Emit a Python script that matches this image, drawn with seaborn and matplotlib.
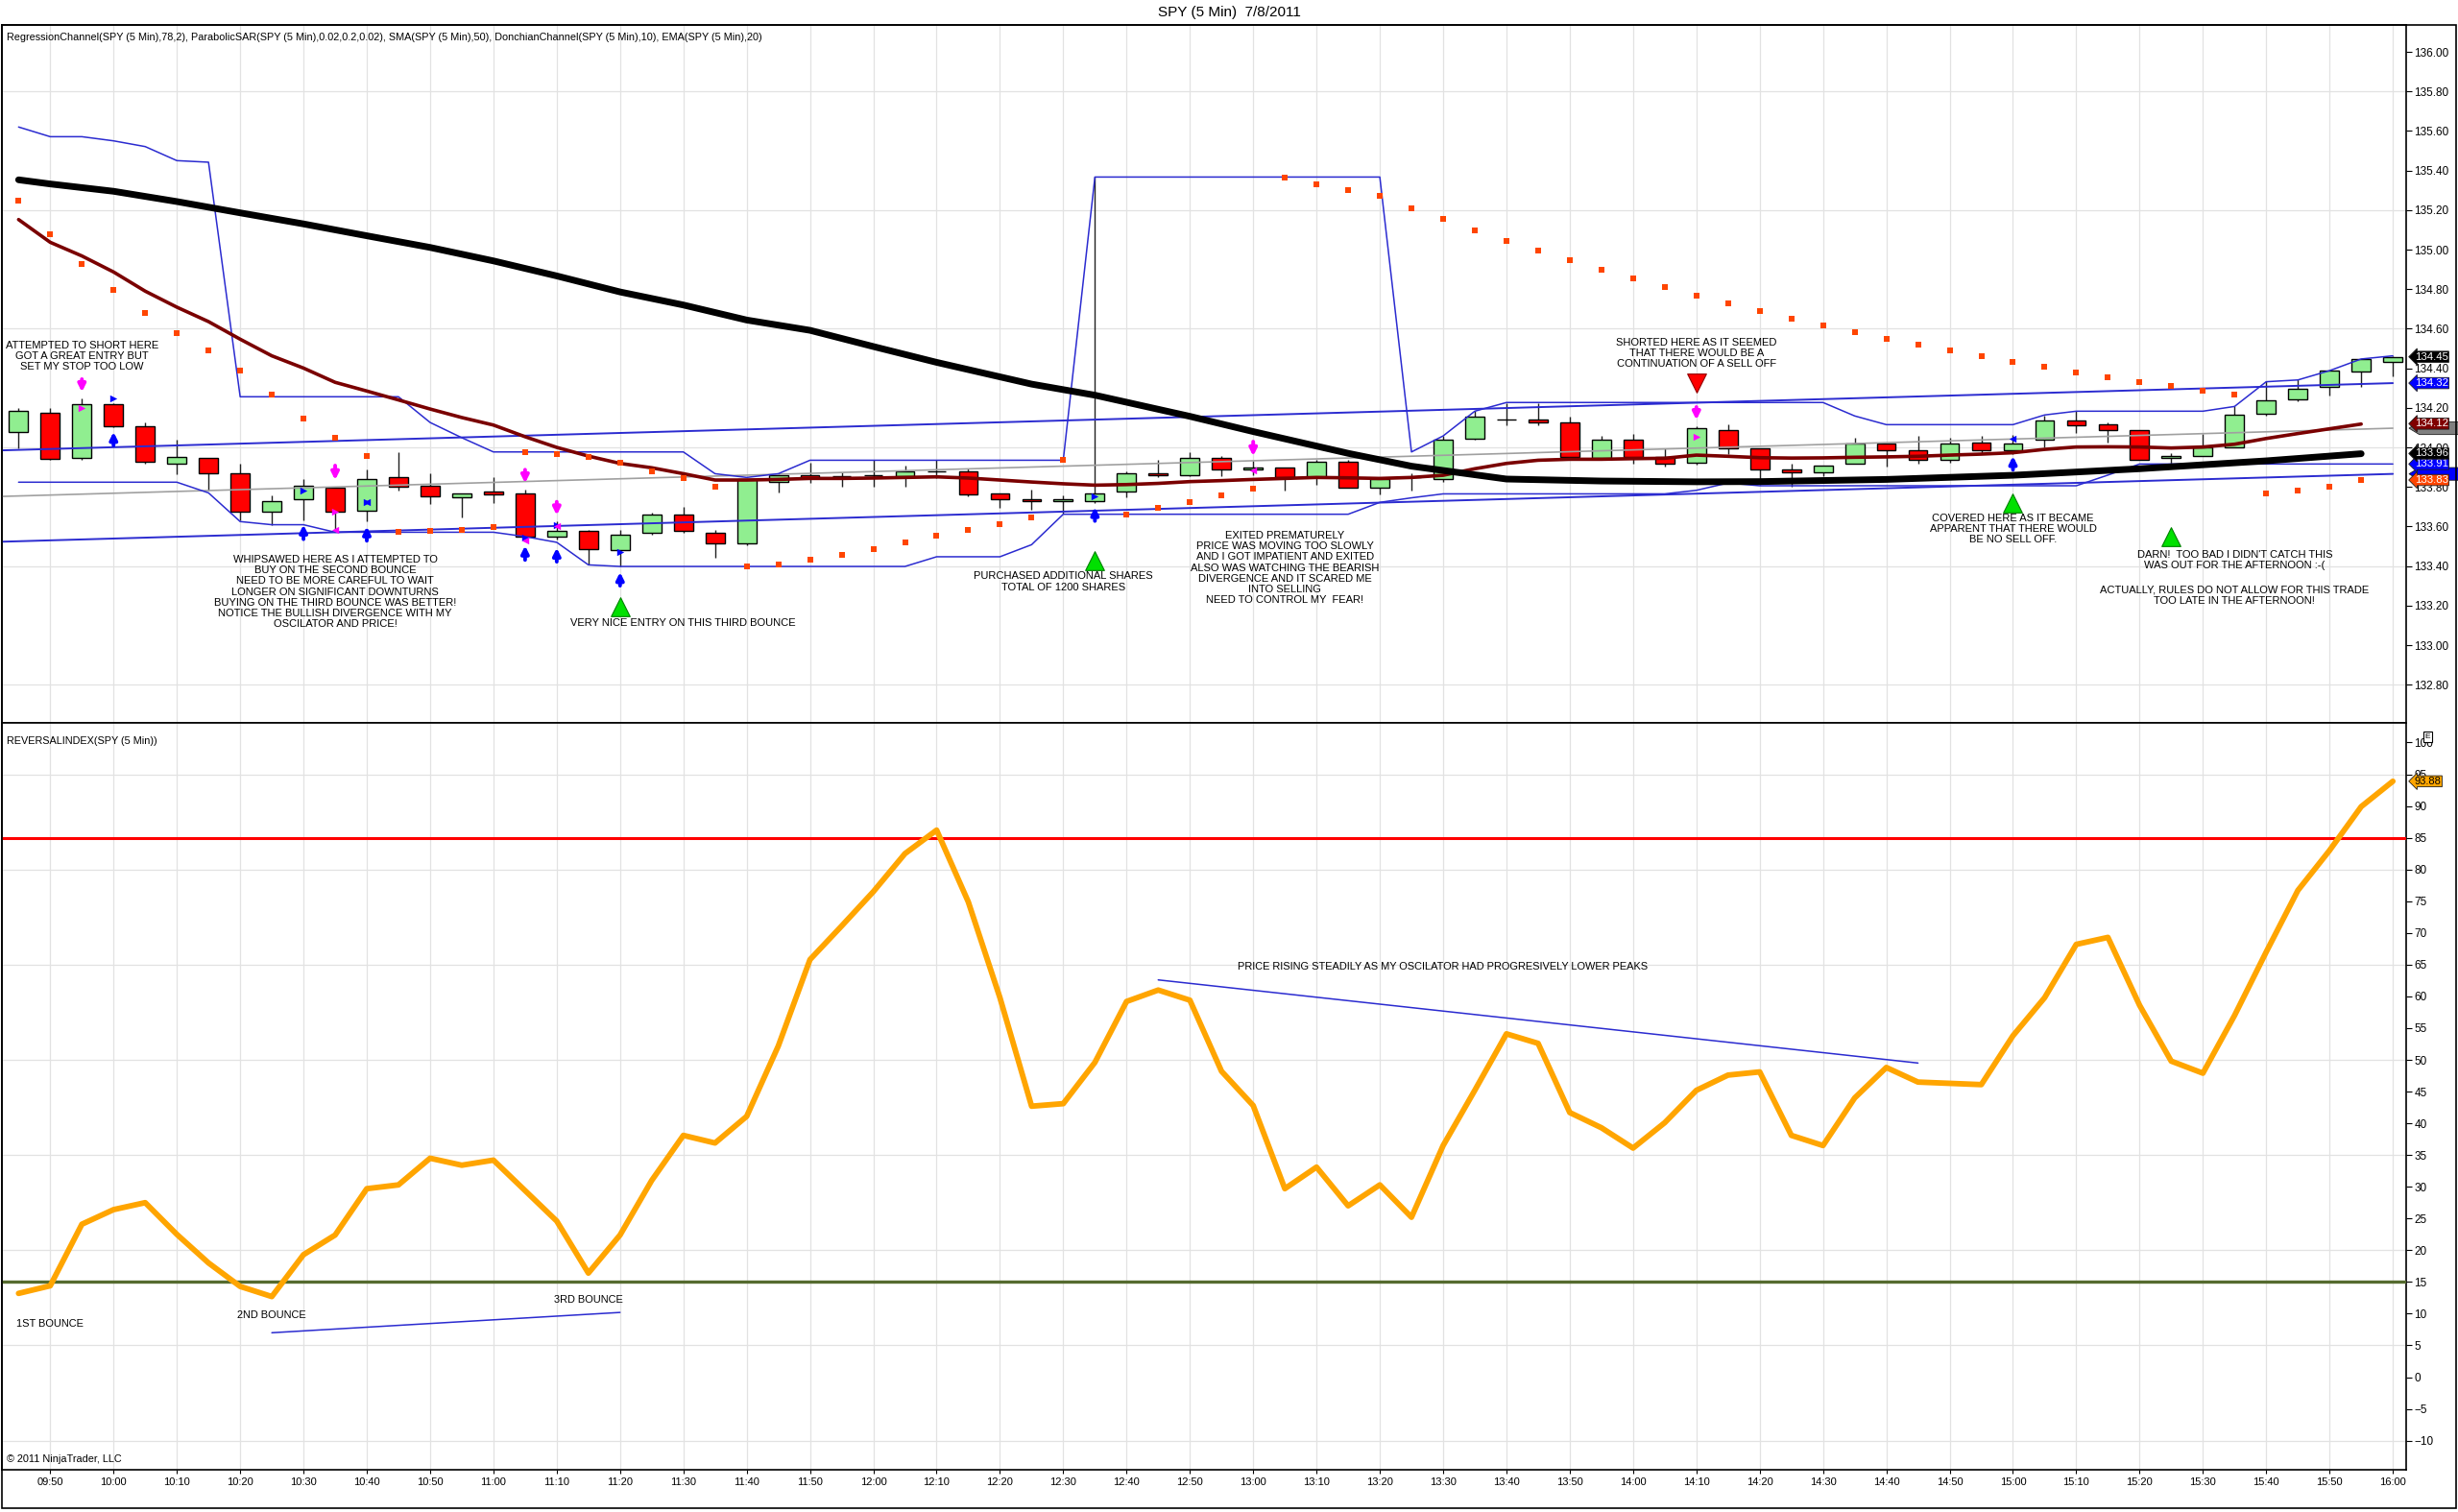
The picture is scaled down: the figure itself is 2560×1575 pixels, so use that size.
import numpy as np
import matplotlib
matplotlib.use("Agg")
import matplotlib.pyplot as plt
from matplotlib.patches import Rectangle, Polygon
import seaborn as sns

sns.set_theme(style="white")
plt.rcParams["font.family"] = ["Liberation Sans", "DejaVu Sans"]

# --- DATA: SPY 5 min bars, 09:45 -> 16:00 ---
tick_labels = ["09:50", "10:00", "10:10", "10:20", "10:30", "10:40", "10:50", "11:00",
               "11:10", "11:20", "11:30", "11:40", "11:50", "12:00", "12:10", "12:20",
               "12:30", "12:40", "12:50", "13:00", "13:10", "13:20", "13:30", "13:40",
               "13:50", "14:00", "14:10", "14:20", "14:30", "14:40", "14:50", "15:00",
               "15:10", "15:20", "15:30", "15:40", "15:50", "16:00"]

opens = [134.076, 134.175, 133.945, 134.218, 134.107, 133.916, 133.945, 133.867, 133.676, 133.736,
         133.796, 133.678, 133.848, 133.804, 133.746, 133.775, 133.765, 133.547, 133.576, 133.479,
         133.567, 133.660, 133.568, 133.516, 133.824, 133.858, 133.856, 133.858, 133.856, 133.879,
         133.877, 133.765, 133.736, 133.727, 133.727, 133.775, 133.867, 133.858, 133.945, 133.887,
         133.897, 133.848, 133.927, 133.795, 133.848, 133.838, 134.045, 134.142, 134.142, 134.125,
         133.945, 134.037, 133.953, 133.924, 134.086, 133.994, 133.887, 133.876, 133.916, 134.018,
         133.984, 133.935, 134.026, 133.984, 134.037, 134.134, 134.115, 134.086, 133.945, 133.956,
         134.002, 134.172, 134.244, 134.304, 134.385, 134.434]
highs = [134.199, 134.199, 134.248, 134.223, 134.125, 134.040, 133.948, 133.919, 133.757, 133.842,
         133.803, 133.890, 133.978, 133.867, 133.765, 133.848, 133.787, 133.625, 133.584, 133.584,
         133.670, 133.701, 133.584, 133.842, 133.867, 133.924, 133.875, 133.935, 133.906, 133.935,
         133.892, 133.765, 133.787, 133.757, 135.367, 133.879, 133.937, 133.978, 133.956, 133.932,
         133.897, 133.937, 133.937, 133.838, 133.867, 134.058, 134.183, 134.223, 134.223, 134.155,
         134.058, 134.070, 133.994, 134.107, 134.115, 133.994, 133.919, 133.908, 134.050, 134.018,
         134.057, 134.050, 134.058, 134.062, 134.162, 134.183, 134.126, 134.086, 133.973, 134.070,
         134.207, 134.337, 134.345, 134.388, 134.447, 134.463]
lows = [133.994, 133.937, 133.937, 134.100, 133.916, 133.864, 133.780, 133.633, 133.608, 133.631,
        133.576, 133.625, 133.783, 133.714, 133.646, 133.718, 133.536, 133.536, 133.406, 133.398,
        133.557, 133.568, 133.444, 133.503, 133.773, 133.822, 133.803, 133.803, 133.803, 133.846,
        133.754, 133.694, 133.686, 133.665, 133.720, 133.746, 133.848, 133.856, 133.856, 133.859,
        133.783, 133.811, 133.795, 133.764, 133.783, 133.824, 134.037, 134.113, 134.113, 133.948,
        133.935, 133.916, 133.905, 133.913, 133.964, 133.811, 133.803, 133.855, 133.916, 133.905,
        133.916, 133.924, 133.964, 133.964, 134.002, 134.074, 134.026, 133.935, 133.916, 133.956,
        134.002, 134.162, 134.235, 134.264, 134.304, 134.361]
closes = [134.183, 133.943, 134.218, 134.105, 133.926, 133.953, 133.867, 133.676, 133.727, 133.804,
          133.676, 133.838, 133.803, 133.754, 133.765, 133.764, 133.549, 133.576, 133.487, 133.557,
          133.660, 133.576, 133.516, 133.838, 133.858, 133.843, 133.856, 133.858, 133.879, 133.879,
          133.764, 133.736, 133.727, 133.736, 133.765, 133.867, 133.858, 133.945, 133.887, 133.897,
          133.848, 133.927, 133.795, 133.838, 133.848, 134.039, 134.155, 134.142, 134.125, 133.953,
          134.037, 133.953, 133.916, 134.097, 133.994, 133.887, 133.876, 133.908, 134.018, 133.984,
          133.935, 134.018, 133.984, 134.018, 134.134, 134.113, 134.086, 133.935, 133.957, 134.002,
          134.164, 134.236, 134.295, 134.388, 134.447, 134.458]

# SMA(50), thick black line
sma_bar = [0, 1, 3, 5, 7, 9, 11, 13, 15, 17, 19, 21, 23, 25, 27, 29, 32, 34, 37, 39,
           42, 44, 47, 50, 53, 55, 59, 63, 67, 71, 74]
sma_val = [135.353, 135.332, 135.295, 135.243, 135.186, 135.130, 135.070, 135.011, 134.943, 134.867,
           134.786, 134.720, 134.644, 134.592, 134.510, 134.430, 134.320, 134.264, 134.157, 134.080,
           133.970, 133.905, 133.840, 133.830, 133.826, 133.827, 133.838, 133.859, 133.892, 133.932,
           133.968]

# EMA(20), maroon line
ema_val = [135.152, 135.037, 134.968, 134.887, 134.790, 134.709, 134.636, 134.547, 134.463, 134.401,
           134.329, 134.285, 134.240, 134.194, 134.151, 134.113, 134.054, 134.000, 133.956, 133.919,
           133.897, 133.867, 133.835, 133.835, 133.838, 133.843, 133.843, 133.845, 133.848, 133.851,
           133.845, 133.835, 133.825, 133.816, 133.809, 133.812, 133.818, 133.827, 133.832, 133.838,
           133.843, 133.848, 133.846, 133.843, 133.848, 133.859, 133.892, 133.919, 133.935, 133.940,
           133.940, 133.943, 133.945, 133.961, 133.955, 133.948, 133.946, 133.947, 133.950, 133.952,
           133.955, 133.961, 133.966, 133.973, 133.990, 134.002, 134.003, 134.002, 133.997, 134.002,
           134.016, 134.045, 134.070, 134.094, 134.118]

# Parabolic SAR dots
sar_val = [135.248, 135.079, 134.927, 134.798, 134.681, 134.579, 134.490, 134.390, 134.269, 134.147,
           134.049, 133.956, 133.571, 133.579, 133.584, 133.596, 133.977, 133.964, 133.953, 133.921,
           133.880, 133.843, 133.803, 133.398, 133.410, 133.431, 133.458, 133.487, 133.520, 133.555,
           133.584, 133.613, 133.644, 133.937, np.nan, 133.662, 133.694, 133.725, 133.759, 133.793,
           135.366, 135.332, 135.302, 135.273, 135.210, 135.157, 135.099, 135.045, 134.997, 134.948,
           134.900, 134.856, 134.812, 134.769, 134.730, 134.690, 134.652, 134.617, 134.584, 134.550,
           134.520, 134.490, 134.463, 134.434, 134.410, 134.380, 134.356, 134.332, 134.312, 134.288,
           134.269, 133.767, 133.783, 133.803, 133.835]

# Donchian channel (10)
don_upper = [135.620, 135.571, 135.571, 135.550, 135.521, 135.450, 135.442, 134.256, 134.256, 134.256,
             134.256, 134.256, 134.256, 134.126, 134.049, 133.977, 133.977, 133.977, 133.977, 133.977,
             133.977, 133.977, 133.867, 133.848, 133.867, 133.935, 133.935, 133.935, 133.935, 133.935,
             133.935, 133.935, 133.935, 133.935, 135.367, 135.367, 135.367, 135.367, 135.367, 135.367,
             135.367, 135.367, 135.367, 135.367, 133.977, 134.058, 134.183, 134.227, 134.227, 134.227,
             134.227, 134.227, 134.227, 134.227, 134.227, 134.227, 134.227, 134.227, 134.159, 134.115,
             134.115, 134.115, 134.115, 134.115, 134.164, 134.183, 134.183, 134.183, 134.183, 134.183,
             134.207, 134.332, 134.341, 134.388, 134.447, 134.463]
don_lower = [133.824, 133.824, 133.824, 133.824, 133.824, 133.824, 133.770, 133.625, 133.609, 133.609,
             133.571, 133.571, 133.571, 133.571, 133.571, 133.571, 133.549, 133.520, 133.406, 133.398,
             133.398, 133.398, 133.398, 133.398, 133.398, 133.398, 133.398, 133.398, 133.398, 133.447,
             133.447, 133.447, 133.508, 133.662, 133.662, 133.662, 133.662, 133.662, 133.662, 133.662,
             133.662, 133.662, 133.662, 133.722, 133.745, 133.765, 133.765, 133.765, 133.765, 133.765,
             133.765, 133.765, 133.765, 133.783, 133.820, 133.806, 133.806, 133.806, 133.806, 133.806,
             133.806, 133.806, 133.806, 133.806, 133.806, 133.806, 133.860, 133.916, 133.916, 133.916,
             133.916, 133.916, 133.916, 133.916, 133.916, 133.916]

# Regression channel (78, 2): straight lines, ends of the visible segment
reg_bar = [-0.54, 75]
reg_upper = [133.985, 134.325]
reg_mid = [133.752, 134.097]
reg_lower = [133.523, 133.866]

# Reversal index oscillator
osc_val = [13.2, 14.4, 24.1, 26.4, 27.5, 22.5, 18.0, 14.3, 12.7, 19.3,
           22.4, 29.7, 30.3, 34.5, 33.4, 34.2, 29.4, 24.6, 16.4, 22.4,
           31.0, 38.1, 36.9, 41.1, 52.2, 65.8, 71.1, 76.5, 82.5, 86.2,
           74.9, 59.8, 42.7, 43.1, 49.6, 59.2, 61.0, 59.4, 48.2, 42.8,
           29.7, 33.1, 27.0, 30.3, 25.2, 36.5, 45.2, 54.1, 52.6, 41.7,
           39.3, 36.1, 40.1, 45.2, 47.6, 48.1, 38.1, 36.5, 44.0, 48.8,
           46.5, 46.3, 46.1, 53.8, 59.8, 68.2, 69.3, 58.6, 49.8, 47.9,
           57.0, 67.0, 76.7, 83.0, 89.9, 93.9]

# trade arrows: (bar, tail, tip)
buy_arrows = [(3, 134.010, 134.078), (9, 133.536, 133.609), (11, 133.528, 133.600),
              (16, 133.431, 133.503), (17, 133.422, 133.492), (19, 133.301, 133.369),
              (34, 133.628, 133.698), (63, 133.887, 133.956)]
sell_arrows = [(2, 134.345, 134.280), (10, 133.908, 133.835), (16, 133.887, 133.819),
               (17, 133.725, 133.657), (39, 134.029, 133.956), (53, 134.204, 134.139)]
# execution markers: (bar, price, marker, colour)
fills = [(3, 134.248, ">", "#0000FF"), (9, 133.783, ">", "#0000FF"), (11, 133.722, ">", "#0000FF"),
         (11, 133.722, "<", "#0000FF"), (16, 133.544, ">", "#0000FF"), (17, 133.609, ">", "#0000FF"),
         (19, 133.471, ">", "#0000FF"), (34, 133.754, ">", "#0000FF"), (63, 134.045, "<", "#0000FF"),
         (2, 134.199, ">", "#FF00FF"), (10, 133.676, ">", "#FF00FF"), (10, 133.584, "<", "#FF00FF"),
         (16, 133.528, "<", "#FF00FF"), (17, 133.600, "<", "#FF00FF"), (39, 133.884, "<", "#FF00FF"),
         (53, 134.054, ">", "#FF00FF")]
green_marks = [(19, 133.194), (34, 133.427), (63, 133.720), (68, 133.549)]
red_marks = [(53, 134.327)]

notes_top = [
    (2, 134.461, "ATTEMPTED TO SHORT HERE\nGOT A GREAT ENTRY BUT\nSET MY STOP TOO LOW"),
    (10, 133.269, "WHIPSAWED HERE AS I ATTEMPTED TO\nBUY ON THE SECOND BOUNCE\n"
                  "NEED TO BE MORE CAREFUL TO WAIT\nLONGER ON SIGNIFICANT DOWNTURNS\n"
                  "BUYING ON THE THIRD BOUNCE WAS BETTER!\nNOTICE THE BULLISH DIVERGENCE WITH MY\n"
                  "OSCILATOR AND PRICE!"),
    (21, 133.112, "VERY NICE ENTRY ON THIS THIRD BOUNCE"),
    (33, 133.321, "PURCHASED ADDITIONAL SHARES\nTOTAL OF 1200 SHARES"),
    (40, 133.390, "EXITED PREMATURELY\nPRICE WAS MOVING TOO SLOWLY\nAND I GOT IMPATIENT AND EXITED\n"
                  "ALSO WAS WATCHING THE BEARISH\nDIVERGENCE AND IT SCARED ME\nINTO SELLING\n"
                  "NEED TO CONTROL MY  FEAR!"),
    (53, 134.476, "SHORTED HERE AS IT SEEMED\nTHAT THERE WOULD BE A\nCONTINUATION OF A SELL OFF"),
    (63, 133.588, "COVERED HERE AS IT BECAME\nAPPARENT THAT THERE WOULD\nBE NO SELL OFF."),
    (70, 133.429, "DARN!  TOO BAD I DIDN'T CATCH THIS\nWAS OUT FOR THE AFTERNOON :-("),
    (70, 133.251, "ACTUALLY, RULES DO NOT ALLOW FOR THIS TRADE\nTOO LATE IN THE AFTERNOON!"),
]
notes_low = [(1, 8.4, "1ST BOUNCE"), (8, 9.8, "2ND BOUNCE"), (18, 12.2, "3RD BOUNCE"),
             (45, 64.7, "PRICE RISING STEADILY AS MY OSCILATOR HAD PROGRESIVELY LOWER PEAKS")]
div_lines = [([8, 19], [7.0, 10.2]), ([36, 60], [62.6, 49.5])]

# last-value tags on the price axis; the hidden ones sit behind the others
hidden_tags = [(134.097, "#808080"), (133.866, "#0000FF")]
price_tags = [(133.916, "133.91", "#0000FF"), (133.969, "133.96", "#000000"),
              (133.835, "133.83", "#FF4500"), (134.120, "134.12", "#800000"),
              (134.325, "134.32", "#0000FF"), (134.458, "134.45", "#000000")]

price_ticks = np.round(np.arange(132.8, 136.01, 0.2), 2)
price_grid = [132.8, 133.4, 134.0, 134.6, 135.2, 135.8]
osc_ticks = list(range(-10, 101, 5))
osc_grid = [-10, 5, 20, 35, 50, 65, 80, 95]

# --- FIGURE ---
bars = np.arange(len(opens))
tick_pos = bars[1::2]
grid_col = "#E2E2E2"
chan_blue = "#2B2BD0"

fig = plt.figure(figsize=(25.6, 15.75), dpi=100)
ax1 = fig.add_axes([0.0006, 0.5219, 0.9783, 0.4616])
ax2 = fig.add_axes([0.0006, 0.0279, 0.9783, 0.4940])

for ax in (ax1, ax2):
    ax.set_facecolor("white")
    ax.set_xlim(-0.54, 75.42)
    ax.set_xticks(tick_pos)
    for v in tick_pos:
        ax.axvline(v, color=grid_col, lw=0.9, zorder=0)
    for s in ax.spines.values():
        s.set_color("black")
        s.set_linewidth(1.2)
    ax.yaxis.tick_right()
    ax.tick_params(axis="y", direction="out", length=4, width=0.8, colors="black",
                   labelsize=8.5, pad=2, right=True, left=False)

# price panel
ax1.set_ylim(132.607, 136.136)
ax1.set_yticks(price_ticks)
ax1.set_yticklabels([f"{p:.2f}" for p in price_ticks])
ax1.tick_params(axis="x", length=0, labelbottom=False)
for g in price_grid:
    ax1.axhline(g, color=grid_col, lw=0.9, zorder=0)

# regression channel and donchian
sns.lineplot(x=reg_bar, y=reg_upper, ax=ax1, color=chan_blue, lw=1.4, zorder=3, errorbar=None)
sns.lineplot(x=reg_bar, y=reg_mid, ax=ax1, color="#A0A0A0", lw=1.2, zorder=3, errorbar=None)
sns.lineplot(x=reg_bar, y=reg_lower, ax=ax1, color=chan_blue, lw=1.4, zorder=3, errorbar=None)
sns.lineplot(x=bars, y=don_upper, ax=ax1, color=chan_blue, lw=1.1, zorder=3, errorbar=None)
sns.lineplot(x=bars, y=don_lower, ax=ax1, color=chan_blue, lw=1.1, zorder=3, errorbar=None)

# candles
o, h, l, c = map(np.array, (opens, highs, lows, closes))
body_col = np.where(c >= o, "#90EE90", "#FF0000")
ax1.vlines(bars, l, h, color="#202020", lw=1.0, zorder=2)
ax1.bar(bars, np.abs(c - o), bottom=np.minimum(o, c), width=0.6, color=body_col,
        edgecolor="black", linewidth=1.0, zorder=2.5)

# moving averages and SAR
sns.lineplot(x=bars[:len(ema_val)], y=ema_val, ax=ax1, color="#7A0000", lw=2.6, zorder=4, errorbar=None)
sns.lineplot(x=sma_bar, y=sma_val, ax=ax1, color="black", lw=5.0, zorder=4, errorbar=None)
sns.scatterplot(x=bars[:len(sar_val)], y=sar_val, ax=ax1, marker="s", s=14, color="#FF4500",
                linewidth=0, zorder=4)

# trades
for b, tail, tip in buy_arrows:
    ax1.annotate("", xy=(b, tip), xytext=(b, tail), zorder=6,
                 arrowprops=dict(arrowstyle="-|>", color="#0000FF", lw=2.8, mutation_scale=11,
                                 shrinkA=0, shrinkB=0))
for b, tail, tip in sell_arrows:
    ax1.annotate("", xy=(b, tip), xytext=(b, tail), zorder=6,
                 arrowprops=dict(arrowstyle="-|>", color="#FF00FF", lw=2.8, mutation_scale=11,
                                 shrinkA=0, shrinkB=0))
for b, p, m, col in fills:
    ax1.scatter([b], [p], marker=m, s=28, color=col, zorder=6, linewidths=0)
ax1.scatter([g[0] for g in green_marks], [g[1] for g in green_marks], marker="^", s=200,
            color="#00E000", edgecolors="#008000", linewidths=0.8, zorder=6)
ax1.scatter([r[0] for r in red_marks], [r[1] for r in red_marks], marker="v", s=200,
            color="#FF0000", edgecolors="#900000", linewidths=0.8, zorder=6)

for b, p, txt in notes_top:
    ax1.text(b, p, txt, ha="center", va="center", fontsize=8.0, linespacing=1.15,
             color="black", zorder=7)

ax1.text(0.002, 0.982, "RegressionChannel(SPY (5 Min),78,2), ParabolicSAR(SPY (5 Min),0.02,0.2,0.02), "
         "SMA(SPY (5 Min),50), DonchianChannel(SPY (5 Min),10), EMA(SPY (5 Min),20)",
         transform=ax1.transAxes, ha="left", va="center", fontsize=7.85, color="black")

ytr = ax1.get_yaxis_transform()
for val, col in hidden_tags:
    ax1.add_patch(Polygon([(1.0012, val), (1.0055, val + 0.032), (1.0265, val + 0.032),
                           (1.0265, val - 0.032), (1.0055, val - 0.032)], closed=True,
                          transform=ytr, fc=col, ec="#202020", lw=0.6, clip_on=False, zorder=7))
for val, txt, col in price_tags:
    ax1.text(1.0035, val, txt, transform=ytr, ha="left", va="center",
             fontsize=8.2, color="white", zorder=8, clip_on=False,
             bbox=dict(boxstyle="larrow,pad=0.07", fc=col, ec="#202020", lw=0.6))

# oscillator panel
ax2.set_ylim(-14.6, 103.1)
ax2.set_yticks(osc_ticks)
ax2.set_xticklabels(tick_labels)
ax2.tick_params(axis="x", direction="out", length=3, width=0.8, labelsize=8, pad=3,
                bottom=True, colors="black")
for g in osc_grid:
    ax2.axhline(g, color=grid_col, lw=0.9, zorder=0)
ax2.axhline(85, color="#FF0000", lw=2.2, zorder=3)
ax2.axhline(15, color="#556B2F", lw=2.4, zorder=3)
sns.lineplot(x=bars, y=osc_val, ax=ax2, color="#FFA500", lw=4.2, zorder=4, errorbar=None)
for xs, ys in div_lines:
    sns.lineplot(x=xs, y=ys, ax=ax2, color=chan_blue, lw=1.1, zorder=4, errorbar=None)
for b, v, txt in notes_low:
    ax2.text(b, v, txt, ha="center", va="center", fontsize=7.9, color="black", zorder=5)
ax2.text(0.002, 0.975, "REVERSALINDEX(SPY (5 Min))", transform=ax2.transAxes,
         ha="left", va="center", fontsize=7.8, color="black")
ax2.text(0.002, 0.008, "\u00a9 2011 NinjaTrader, LLC", transform=ax2.transAxes,
         ha="left", va="bottom", fontsize=7.8, color="black")
ax2.text(1.0035, osc_val[-1], "93.88", transform=ax2.get_yaxis_transform(),
         ha="left", va="center", fontsize=8, color="black", zorder=8, clip_on=False,
         bbox=dict(boxstyle="larrow,pad=0.07", fc="#FFA500", ec="#202020", lw=0.6))
# small panel button next to the 100 label
fig.text(0.9877, 0.5125, "E", ha="center", va="center", fontsize=6, color="black",
         bbox=dict(boxstyle="square,pad=0.25", fc="white", ec="black", lw=0.8))

fig.text(0.5, 0.9915, "SPY (5 Min)  7/8/2011", ha="center", va="center", fontsize=11, color="black")
fig.patches.append(Rectangle((0.0006, 0.0028), 0.9988, 0.9807, transform=fig.transFigure,
                             fill=False, ec="black", lw=1.2))

fig.savefig("out.png", dpi=100, facecolor="white")
